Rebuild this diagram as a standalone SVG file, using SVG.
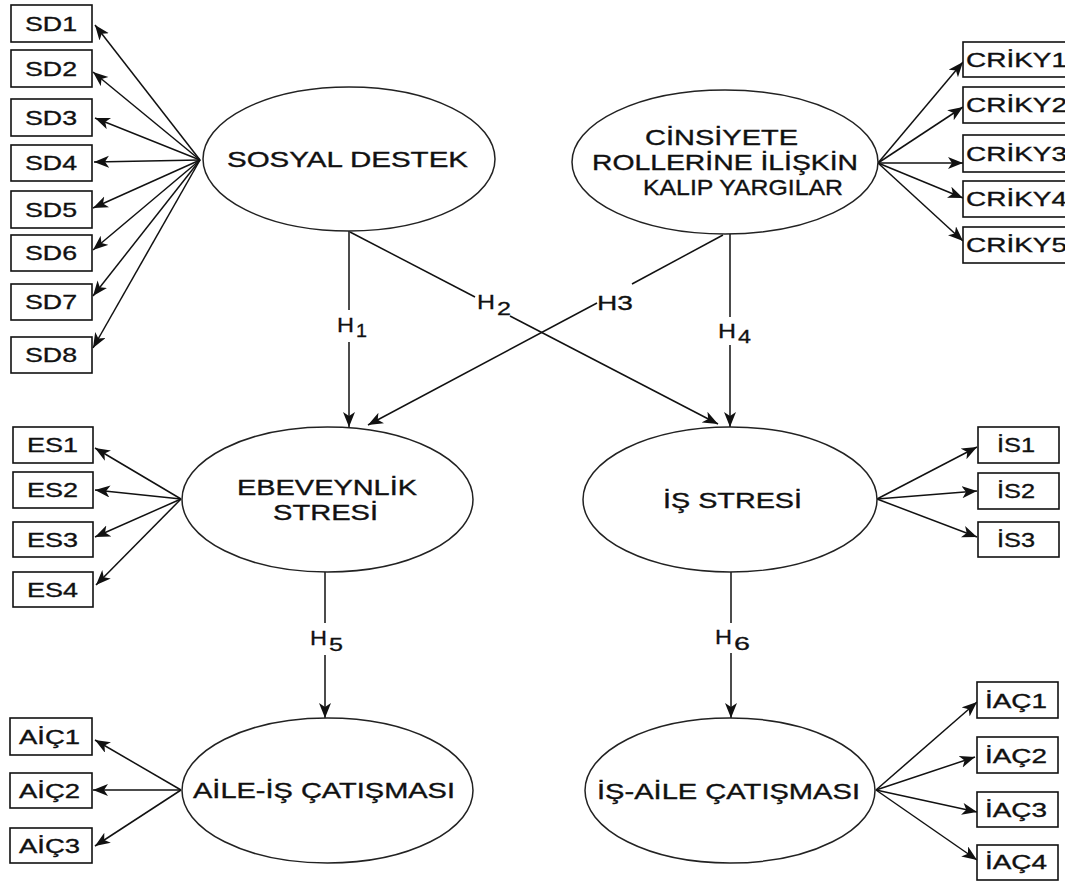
<svg xmlns="http://www.w3.org/2000/svg" width="1065" height="881" viewBox="0 0 1065 881">
<style>
.bg{fill:#fff}
.box{fill:#fff;stroke:#111;stroke-width:1.6}
.ell{fill:#fff;stroke:#222;stroke-width:1.5}
.ln{fill:none;stroke:#111;stroke-width:1.5}
.t{font-family:"Liberation Sans",Arial,sans-serif;font-size:21px;fill:#111;stroke:#111;stroke-width:0.35}
.tl{font-family:"Liberation Sans",Arial,sans-serif;font-size:22px;fill:#111;stroke:#111;stroke-width:0.35}
.h{font-family:"Liberation Sans",Arial,sans-serif;font-size:21px;fill:#111;stroke:#111;stroke-width:0.3}
.hs{font-family:"Liberation Sans",Arial,sans-serif;font-size:19px;fill:#111;stroke:#111;stroke-width:0.3}
</style>
<defs>
<marker id="arr" markerUnits="userSpaceOnUse" markerWidth="17" markerHeight="13" refX="15" refY="6" orient="auto">
<path d="M0,0 L15,6 L0,12 L4,6 Z" fill="#111"/>
</marker>
</defs>
<rect class="bg" x="0" y="0" width="1065" height="881"/>

<g id="connectors">
<line class="ln" x1="200" y1="160" x2="95" y2="25" marker-end="url(#arr)"/>
<line class="ln" x1="200" y1="160" x2="93" y2="72" marker-end="url(#arr)"/>
<line class="ln" x1="200" y1="160" x2="95" y2="118" marker-end="url(#arr)"/>
<line class="ln" x1="200" y1="160" x2="94" y2="162" marker-end="url(#arr)"/>
<line class="ln" x1="200" y1="160" x2="93" y2="208" marker-end="url(#arr)"/>
<line class="ln" x1="200" y1="160" x2="93" y2="250" marker-end="url(#arr)"/>
<line class="ln" x1="200" y1="160" x2="93" y2="296" marker-end="url(#arr)"/>
<line class="ln" x1="200" y1="160" x2="93" y2="348" marker-end="url(#arr)"/>
<line class="ln" x1="878" y1="163" x2="963" y2="62" marker-end="url(#arr)"/>
<line class="ln" x1="878" y1="163" x2="963" y2="107" marker-end="url(#arr)"/>
<line class="ln" x1="878" y1="163" x2="963" y2="163" marker-end="url(#arr)"/>
<line class="ln" x1="878" y1="163" x2="963" y2="198" marker-end="url(#arr)"/>
<line class="ln" x1="878" y1="163" x2="963" y2="241" marker-end="url(#arr)"/>
<line class="ln" x1="181" y1="499" x2="95" y2="448" marker-end="url(#arr)"/>
<line class="ln" x1="181" y1="499" x2="95" y2="490" marker-end="url(#arr)"/>
<line class="ln" x1="181" y1="499" x2="95" y2="537" marker-end="url(#arr)"/>
<line class="ln" x1="181" y1="499" x2="96" y2="585" marker-end="url(#arr)"/>
<line class="ln" x1="877" y1="499" x2="977" y2="447" marker-end="url(#arr)"/>
<line class="ln" x1="877" y1="499" x2="977" y2="491" marker-end="url(#arr)"/>
<line class="ln" x1="877" y1="499" x2="977" y2="537" marker-end="url(#arr)"/>
<line class="ln" x1="181" y1="790" x2="95" y2="740" marker-end="url(#arr)"/>
<line class="ln" x1="181" y1="790" x2="93" y2="790" marker-end="url(#arr)"/>
<line class="ln" x1="181" y1="790" x2="95" y2="846" marker-end="url(#arr)"/>
<line class="ln" x1="876" y1="790" x2="977" y2="702" marker-end="url(#arr)"/>
<line class="ln" x1="876" y1="790" x2="975" y2="757" marker-end="url(#arr)"/>
<line class="ln" x1="876" y1="790" x2="977" y2="812" marker-end="url(#arr)"/>
<line class="ln" x1="876" y1="790" x2="977" y2="860" marker-end="url(#arr)"/>
<line class="ln" x1="349" y1="231" x2="349" y2="310"/>
<line class="ln" x1="349" y1="342" x2="349" y2="427" marker-end="url(#arr)"/>
<line class="ln" x1="350" y1="232" x2="475" y2="297"/>
<line class="ln" x1="510" y1="316" x2="718" y2="424" marker-end="url(#arr)"/>
<line class="ln" x1="723" y1="235" x2="632" y2="284"/>
<line class="ln" x1="597" y1="303" x2="368" y2="425" marker-end="url(#arr)"/>
<line class="ln" x1="730" y1="234" x2="730" y2="317"/>
<line class="ln" x1="730" y1="345" x2="730" y2="427" marker-end="url(#arr)"/>
<line class="ln" x1="325" y1="572" x2="325" y2="623"/>
<line class="ln" x1="325" y1="655" x2="325" y2="718" marker-end="url(#arr)"/>
<line class="ln" x1="731" y1="572" x2="731" y2="623"/>
<line class="ln" x1="731" y1="653" x2="731" y2="718" marker-end="url(#arr)"/>
<text class="h" x="337" y="332" textLength="17" lengthAdjust="spacingAndGlyphs">H</text>
<text class="hs" x="356" y="337" textLength="11" lengthAdjust="spacingAndGlyphs">1</text>
<text class="h" x="477" y="309" textLength="18" lengthAdjust="spacingAndGlyphs">H</text>
<text class="hs" x="497" y="315" textLength="14" lengthAdjust="spacingAndGlyphs">2</text>
<text class="h" x="597" y="310" textLength="36" lengthAdjust="spacingAndGlyphs">H3</text>
<text class="h" x="718" y="338" textLength="18" lengthAdjust="spacingAndGlyphs">H</text>
<text class="hs" x="738" y="343" textLength="13" lengthAdjust="spacingAndGlyphs">4</text>
<text class="h" x="310" y="645" textLength="17" lengthAdjust="spacingAndGlyphs">H</text>
<text class="hs" x="329" y="651" textLength="14" lengthAdjust="spacingAndGlyphs">5</text>
<text class="h" x="715" y="644" textLength="17" lengthAdjust="spacingAndGlyphs">H</text>
<text class="hs" x="734" y="650" textLength="16" lengthAdjust="spacingAndGlyphs">6</text>
</g>

<g id="sosyal-destek">
<ellipse class="ell" cx="349" cy="159" rx="146" ry="72"/>
<text class="tl" x="227" y="167" textLength="241" lengthAdjust="spacingAndGlyphs">SOSYAL DESTEK</text>
</g>
<g id="cinsiyete">
<ellipse class="ell" cx="725" cy="162" rx="153" ry="72"/>
<text class="tl" x="645" y="145" textLength="153" lengthAdjust="spacingAndGlyphs">CİNSİYETE</text>
<text class="tl" x="592" y="170" textLength="266" lengthAdjust="spacingAndGlyphs">ROLLERİNE İLİŞKİN</text>
<text class="tl" x="643" y="195" textLength="200" lengthAdjust="spacingAndGlyphs">KALIP YARGILAR</text>
</g>
<g id="ebeveynlik-stresi">
<ellipse class="ell" cx="327.5" cy="499.5" rx="145.5" ry="72.5"/>
<text class="tl" x="237" y="495" textLength="180" lengthAdjust="spacingAndGlyphs">EBEVEYNLİK</text>
<text class="tl" x="273" y="520" textLength="105" lengthAdjust="spacingAndGlyphs">STRESİ</text>
</g>
<g id="is-stresi">
<ellipse class="ell" cx="730" cy="499.5" rx="147" ry="72.5"/>
<text class="tl" x="663" y="508" textLength="139" lengthAdjust="spacingAndGlyphs">İŞ STRESİ</text>
</g>
<g id="aile-is-catismasi">
<ellipse class="ell" cx="327.5" cy="790.5" rx="145.5" ry="72.5"/>
<text class="tl" x="193" y="798" textLength="262" lengthAdjust="spacingAndGlyphs">AİLE-İŞ ÇATIŞMASI</text>
</g>
<g id="is-aile-catismasi">
<ellipse class="ell" cx="730" cy="790.5" rx="145" ry="72.5"/>
<text class="tl" x="597" y="799" textLength="263" lengthAdjust="spacingAndGlyphs">İŞ-AİLE ÇATIŞMASI</text>
</g>

<g id="SD1"><rect class="box" x="11" y="5" width="81" height="37"/><text class="t" x="25" y="31" textLength="52" lengthAdjust="spacingAndGlyphs">SD1</text></g>
<g id="SD2"><rect class="box" x="11" y="50" width="81" height="37"/><text class="t" x="25" y="76" textLength="52" lengthAdjust="spacingAndGlyphs">SD2</text></g>
<g id="SD3"><rect class="box" x="11" y="99" width="81" height="37"/><text class="t" x="25" y="125" textLength="52" lengthAdjust="spacingAndGlyphs">SD3</text></g>
<g id="SD4"><rect class="box" x="11" y="145" width="81" height="36"/><text class="t" x="25" y="170" textLength="52" lengthAdjust="spacingAndGlyphs">SD4</text></g>
<g id="SD5"><rect class="box" x="11" y="191" width="81" height="37"/><text class="t" x="25" y="217" textLength="52" lengthAdjust="spacingAndGlyphs">SD5</text></g>
<g id="SD6"><rect class="box" x="11" y="235" width="81" height="36"/><text class="t" x="25" y="260" textLength="52" lengthAdjust="spacingAndGlyphs">SD6</text></g>
<g id="SD7"><rect class="box" x="11" y="284" width="81" height="36"/><text class="t" x="25" y="309" textLength="52" lengthAdjust="spacingAndGlyphs">SD7</text></g>
<g id="SD8"><rect class="box" x="11" y="337" width="81" height="36"/><text class="t" x="25" y="362" textLength="52" lengthAdjust="spacingAndGlyphs">SD8</text></g>

<g id="CRIKY1"><rect class="box" x="963" y="42" width="110" height="35"/><text class="t" x="966" y="67" textLength="101" lengthAdjust="spacingAndGlyphs">CRİKY1</text></g>
<g id="CRIKY2"><rect class="box" x="963" y="87" width="110" height="36"/><text class="t" x="966" y="112" textLength="101" lengthAdjust="spacingAndGlyphs">CRİKY2</text></g>
<g id="CRIKY3"><rect class="box" x="963" y="135" width="110" height="37"/><text class="t" x="966" y="161" textLength="101" lengthAdjust="spacingAndGlyphs">CRİKY3</text></g>
<g id="CRIKY4"><rect class="box" x="963" y="181" width="110" height="36"/><text class="t" x="966" y="206" textLength="101" lengthAdjust="spacingAndGlyphs">CRİKY4</text></g>
<g id="CRIKY5"><rect class="box" x="963" y="227" width="110" height="36"/><text class="t" x="966" y="252" textLength="101" lengthAdjust="spacingAndGlyphs">CRİKY5</text></g>

<g id="ES1"><rect class="box" x="13" y="427" width="80" height="36"/><text class="t" x="27" y="452" textLength="51" lengthAdjust="spacingAndGlyphs">ES1</text></g>
<g id="ES2"><rect class="box" x="13" y="472" width="80" height="36"/><text class="t" x="27" y="497" textLength="51" lengthAdjust="spacingAndGlyphs">ES2</text></g>
<g id="ES3"><rect class="box" x="13" y="522" width="80" height="35"/><text class="t" x="27" y="547" textLength="51" lengthAdjust="spacingAndGlyphs">ES3</text></g>
<g id="ES4"><rect class="box" x="13" y="572" width="80" height="35"/><text class="t" x="27" y="597" textLength="51" lengthAdjust="spacingAndGlyphs">ES4</text></g>

<g id="IS1"><rect class="box" x="978" y="427" width="81" height="36"/><text class="t" x="997" y="452" textLength="38" lengthAdjust="spacingAndGlyphs">İS1</text></g>
<g id="IS2"><rect class="box" x="978" y="473" width="81" height="36"/><text class="t" x="997" y="498" textLength="38" lengthAdjust="spacingAndGlyphs">İS2</text></g>
<g id="IS3"><rect class="box" x="978" y="522" width="81" height="35"/><text class="t" x="997" y="547" textLength="38" lengthAdjust="spacingAndGlyphs">İS3</text></g>

<g id="AIC1"><rect class="box" x="10" y="718" width="82" height="37"/><text class="t" x="19" y="744" textLength="61" lengthAdjust="spacingAndGlyphs">AİÇ1</text></g>
<g id="AIC2"><rect class="box" x="10" y="773" width="82" height="35"/><text class="t" x="19" y="798" textLength="61" lengthAdjust="spacingAndGlyphs">AİÇ2</text></g>
<g id="AIC3"><rect class="box" x="10" y="828" width="82" height="35"/><text class="t" x="19" y="853" textLength="61" lengthAdjust="spacingAndGlyphs">AİÇ3</text></g>

<g id="IAC1"><rect class="box" x="977" y="682" width="81" height="36"/><text class="t" x="985" y="708" textLength="62" lengthAdjust="spacingAndGlyphs">İAÇ1</text></g>
<g id="IAC2"><rect class="box" x="977" y="737" width="81" height="36"/><text class="t" x="985" y="763" textLength="62" lengthAdjust="spacingAndGlyphs">İAÇ2</text></g>
<g id="IAC3"><rect class="box" x="977" y="792" width="81" height="35"/><text class="t" x="985" y="817" textLength="62" lengthAdjust="spacingAndGlyphs">İAÇ3</text></g>
<g id="IAC4"><rect class="box" x="977" y="845" width="81" height="35"/><text class="t" x="985" y="869" textLength="62" lengthAdjust="spacingAndGlyphs">İAÇ4</text></g>
</svg>
